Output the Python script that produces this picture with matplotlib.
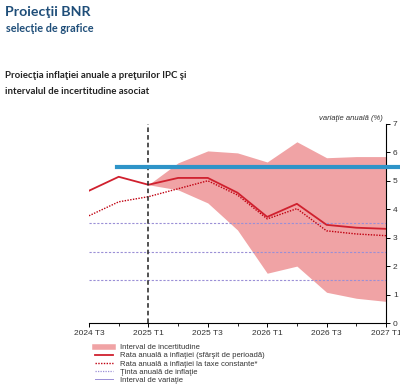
import numpy as np
import matplotlib.pyplot as plt
from matplotlib.lines import Line2D

# date
trimestre = ['2024 T3', '2024 T4', '2025 T1', '2025 T2', '2025 T3', '2025 T4',
             '2026 T1', '2026 T2', '2026 T3', '2026 T4', '2027 T1']
rata_anuala = [4.65, 5.14, 4.86, 5.10, 5.10, 4.58, 3.73, 4.19, 3.45, 3.35, 3.31]
rata_taxe_const = [3.77, 4.26, 4.44, 4.72, 5.00, 4.50, 3.66, 4.02, 3.24, 3.13, 3.07]
interval_sus = [4.86, 5.63, 6.05, 5.98, 5.66, 6.37, 5.81, 5.85, 5.85]
interval_jos = [4.86, 4.68, 4.22, 3.27, 1.75, 2.00, 1.08, 0.87, 0.76]
tinta = 2.5
interval_variatie = [1.5, 3.5]
linie_albastra = 5.47
etichete_x = ['2024 T3', '2025 T1', '2025 T3', '2026 T1', '2026 T3', '2027 T1']

c_banda = '#F0A3A5'
c_rata = '#D0202E'
c_taxe = '#C00010'
c_tinta = '#9A8FD6'
c_albastru = '#2E94C8'

fig = plt.figure(figsize=(4, 3.92), dpi=100)
ax = fig.add_axes([0.2225, 0.176, 0.7425, 0.508])

x = np.arange(len(trimestre))
xp = x[2:]

ax.fill_between(xp, interval_jos, interval_sus, color=c_banda, lw=0, zorder=1)
for v in interval_variatie + [tinta]:
    ax.plot([x[0], x[-1]], [v, v], color=c_tinta, lw=0.8, ls=(0, (2, 1.5)), zorder=2)
ax.plot(x, rata_taxe_const, color=c_taxe, lw=1.0, ls=(0, (1, 1)), zorder=3)
ax.plot(x, rata_anuala, color=c_rata, lw=1.3, zorder=4)
ax.plot([2, 2], [0, 7], color='#222222', lw=1.1, ls=(0, (3, 2)), zorder=5)
ax.plot([0.95, 10.5], [linie_albastra, linie_albastra], color=c_albastru, lw=3,
        clip_on=False, zorder=6)

ax.set_xlim(0, 10)
ax.set_ylim(0, 7)
ax.spines['top'].set_visible(False)
ax.spines['left'].set_visible(False)
ax.spines['right'].set_linewidth(0.8)
ax.spines['bottom'].set_linewidth(0.8)
ax.yaxis.tick_right()
ax.set_yticks(range(0, 8))
ax.set_xticks(x[::2])
ax.set_xticklabels(etichete_x)
ax.set_xticks(x, minor=True)
ax.tick_params(axis='both', labelsize=6, length=3, width=0.7, pad=2,
               labelcolor='#333333')
ax.tick_params(axis='x', which='minor', length=2, width=0.6)
for lab in ax.get_xticklabels() + ax.get_yticklabels():
    lab.set_family('Liberation Sans')

fig.text(0.957, 1 - 119 / 392, 'variaţie anuală (%)', ha='right', va='center',
         fontsize=5.5, style='italic', color='#333333', family='Liberation Sans')

fig.text(0.013, 1 - 12 / 392, 'Proiecţii BNR', fontsize=10.2, fontweight='bold',
         color='#1F4E79', family='Lato', va='center')
fig.text(0.015, 1 - 29 / 392, 'selecţie de grafice', fontsize=7.8, fontweight='bold',
         color='#1F4E79', family='Lato', va='center')
fig.text(0.013, 1 - 76 / 392, 'Proiecţia inflaţiei anuale a preţurilor IPC şi',
         fontsize=6.9, fontweight='bold', color='#222222', family='Lato', va='center')
fig.text(0.013, 1 - 91 / 392, 'intervalul de incertitudine asociat',
         fontsize=6.9, fontweight='bold', color='#222222', family='Lato', va='center')

handles = [
    Line2D([], [], color=c_banda, lw=4),
    Line2D([], [], color=c_rata, lw=1.3),
    Line2D([], [], color=c_taxe, lw=1.0, ls=(0, (1, 1))),
    Line2D([], [], color=c_tinta, lw=0.9, ls=(0, (1, 1))),
    Line2D([], [], color=c_tinta, lw=0.7),
]
labels = ['Interval de incertitudine',
          'Rata anuală a inflaţiei (sfârşit de perioadă)',
          'Rata anuală a inflaţiei la taxe constante*',
          'Ţinta anuală de inflaţie',
          'Interval de variaţie']
leg = fig.legend(handles, labels, loc='upper left',
                 bbox_to_anchor=(95 / 400, 1 - 344 / 392), frameon=False,
                 prop={'family': 'Liberation Sans', 'size': 5.5},
                 handlelength=2.4, handletextpad=0.9, labelspacing=0.1,
                 borderpad=0, borderaxespad=0)
for t in leg.get_texts():
    t.set_color('#333333')

fig.savefig('out.png', dpi=100)
